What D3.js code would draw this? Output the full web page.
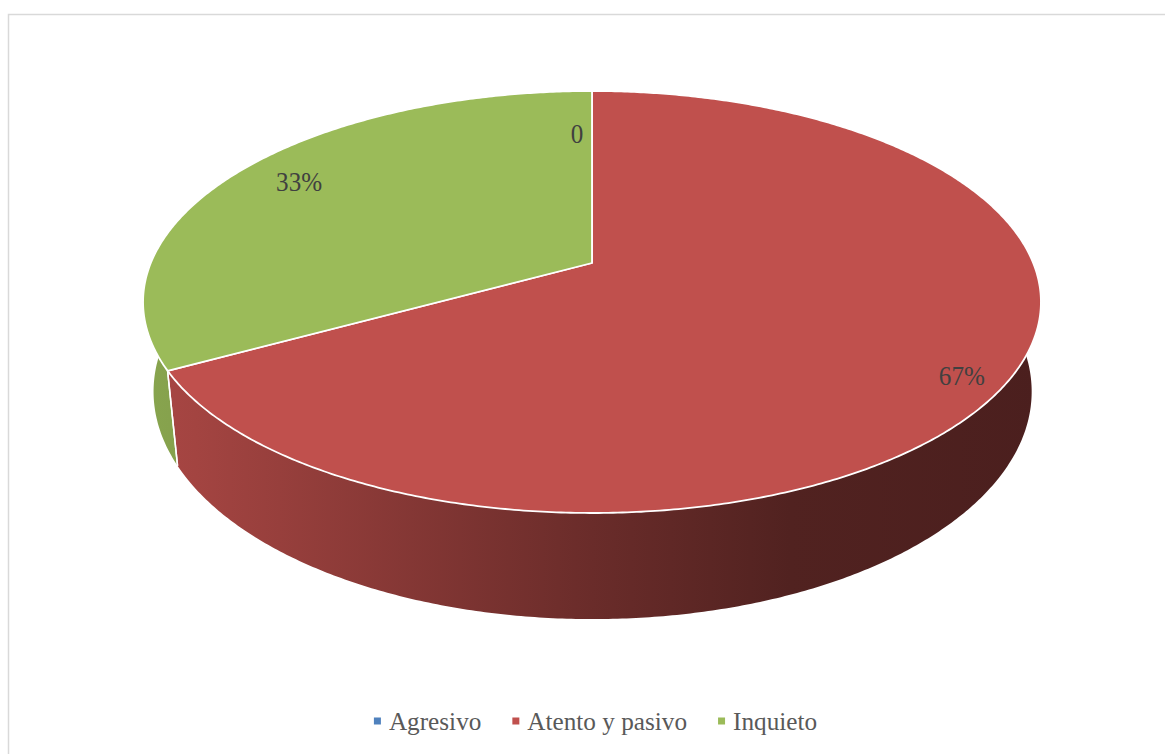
<!DOCTYPE html>
<html>
<head>
<meta charset="utf-8">
<script src="https://cdn.jsdelivr.net/npm/d3@7"></script>
<style>
  html, body { margin: 0; padding: 0; background: #fff; }
  svg { display: block; }
</style>
</head>
<body>
<svg id="chart" width="1165" height="754"></svg>
<script>
// ---- data ----
const categories = ["Agresivo", "Atento y pasivo", "Inquieto"];
const values = [0, 67, 33];
const labelTexts = ["0", "67%", "33%"];
const colors = ["#4F81BD", "#C0504D", "#9BBB59"];

// ---- geometry / style ----
const W = 1165, H = 754;
const X0 = 592, Y0 = 263;          // projected pie centre
const A = 441.2, B = 203.8;        // projected radii
const K = 0.1848;                  // perspective factor
const D = 86.5;                    // depth
const SX = 0.978, XC = 620;        // bottom face x shrink
const labelR = 0.85;
const labelNudge = [[-15, 20], [19, 17], [6, 0]];

const svg = d3.select("#chart");

// outer border
svg.append("rect")
  .attr("x", 8.5).attr("y", 14.5)
  .attr("width", W + 20).attr("height", H + 20)
  .attr("fill", "#fff").attr("stroke", "#D9D9D9").attr("stroke-width", 1.5);

function proj(theta, r) {
  const u = r * Math.sin(theta), v = -r * Math.cos(theta);
  const w = 1 - K * v;
  return [X0 + A * u / w, Y0 + B * v / w];
}
function projBottom(theta) {
  const p = proj(theta, 1);
  const v = -Math.cos(theta);
  return [XC + (p[0] - XC) * SX, p[1] + D / (1 - K * v)];
}

const pie = d3.pie().sort(null).value(d => d);
const arcs = pie(values);

// gradients for the side
const defs = svg.append("defs");
const shadeStops = [[0, 0.88], [0.06, 0.85], [0.5, 0.55], [0.72, 0.42], [1, 0.39]];
colors.forEach((c, i) => {
  const g = defs.append("linearGradient")
    .attr("id", "side" + i)
    .attr("gradientUnits", "userSpaceOnUse")
    .attr("x1", X0 - A * 1.02).attr("x2", X0 + A * 1.02)
    .attr("y1", 0).attr("y2", 0);
  const base = d3.rgb(c);
  shadeStops.forEach(([o, f]) => {
    g.append("stop").attr("offset", o)
      .attr("stop-color", d3.rgb(base.r * f, base.g * f, base.b * f).formatHex());
  });
});

const line = d3.line();
const STEP = Math.PI / 360;
const FRONT_A = Math.PI / 3, FRONT_B = 5 * Math.PI / 3;

function arcPoints(a0, a1, fn) {
  const pts = [];
  const n = Math.max(2, Math.ceil((a1 - a0) / STEP));
  for (let j = 0; j <= n; j++) pts.push(fn(a0 + (a1 - a0) * j / n));
  return pts;
}

// side walls
const sideG = svg.append("g");
arcs.forEach((d, i) => {
  const a0 = Math.max(d.startAngle, FRONT_A), a1 = Math.min(d.endAngle, FRONT_B);
  if (a1 <= a0) return;
  const top = arcPoints(a0, a1, t => proj(t, 1));
  const bot = arcPoints(a0, a1, t => projBottom(t)).reverse();
  sideG.append("path")
    .attr("d", line(top.concat(bot)) + "Z")
    .attr("fill", `url(#side${i})`)
    .attr("stroke", "none");
});
// white edges at visible slice boundaries on the side
arcs.forEach(d => {
  [d.startAngle, d.endAngle].forEach(t => {
    if (t > Math.PI / 2 && t < 3 * Math.PI / 2 && d.endAngle > d.startAngle) {
      sideG.append("path")
        .attr("d", line([proj(t, 1), projBottom(t)]))
        .attr("stroke", "#fff").attr("stroke-width", 1.5).attr("fill", "none");
    }
  });
});

// top face
const topG = svg.append("g");
arcs.forEach((d, i) => {
  if (d.endAngle <= d.startAngle) return;
  const pts = [[X0, Y0]].concat(arcPoints(d.startAngle, d.endAngle, t => proj(t, 1)));
  topG.append("path")
    .attr("d", line(pts) + "Z")
    .attr("fill", colors[i])
    .attr("stroke", "#fff").attr("stroke-width", 1.8)
    .attr("stroke-linejoin", "round");
});

// data labels
const labelG = svg.append("g")
  .style("font-family", "'Liberation Serif', 'DejaVu Serif', serif")
  .style("font-size", "27px")
  .attr("fill", "#404040");
arcs.forEach((d, i) => {
  const mid = (d.startAngle + d.endAngle) / 2;
  const p = proj(mid, labelR);
  const x = p[0] + labelNudge[i][0], y = p[1] + labelNudge[i][1];
  labelG.append("text")
    .attr("transform", `translate(${x},${y}) scale(0.93,1)`)
    .attr("text-anchor", "middle")
    .attr("dy", "0.35em")
    .text(labelTexts[i]);
});

// legend
const legendG = svg.append("g")
  .style("font-family", "'Liberation Serif', 'DejaVu Serif', serif")
  .style("font-size", "26px")
  .attr("fill", "#595959");
const legendY = 721;
const legendScale = 0.97;
const gap = 31;
const items = [];
let xCur = 0;
categories.forEach((c, i) => {
  const g = legendG.append("g");
  g.append("rect").attr("x", 0).attr("y", -3.5).attr("width", 7).attr("height", 7)
    .attr("fill", colors[i]);
  const t = g.append("text").attr("x", 0).attr("dy", "0.35em")
    .attr("transform", `translate(15,0) scale(${legendScale},1)`)
    .text(c);
  const w = t.node().getComputedTextLength() * legendScale;
  items.push({ g, x: xCur });
  xCur += 15 + w + gap;
});
const totalW = xCur - gap;
const startX = 595.5 - totalW / 2;
items.forEach(it => it.g.attr("transform", `translate(${startX + it.x},${legendY})`));
</script>
</body>
</html>
